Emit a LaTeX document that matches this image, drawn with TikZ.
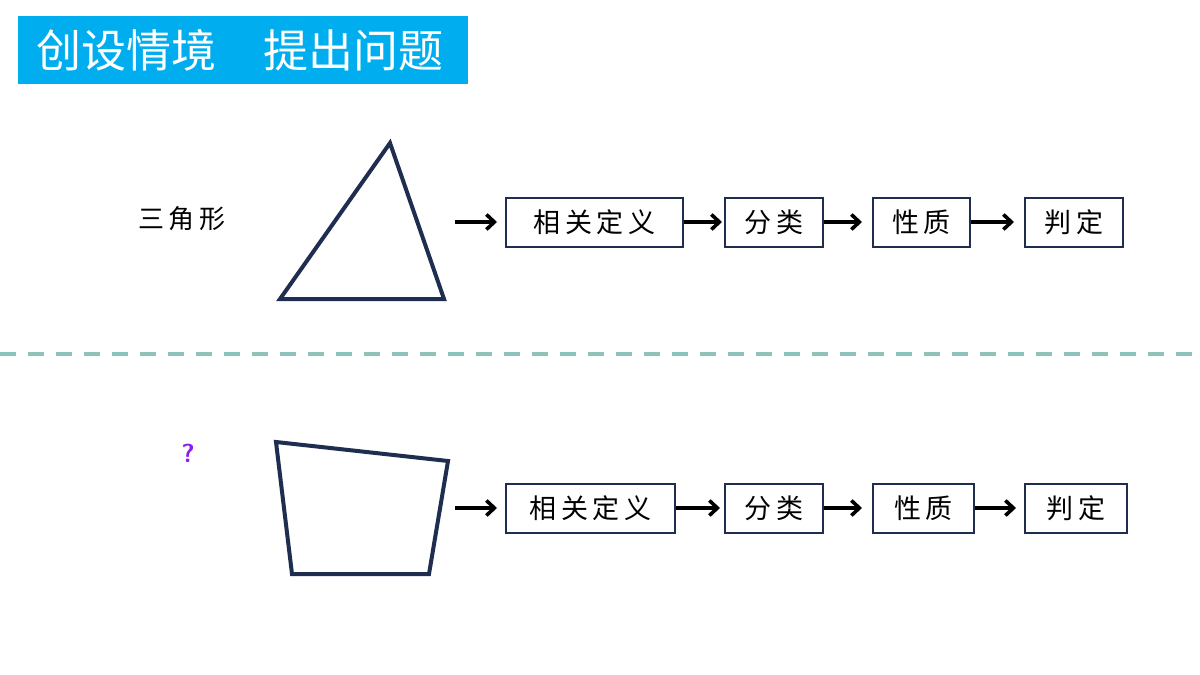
\documentclass[tikz,border=0pt]{standalone}
\usepackage{fontspec}
\newfontfamily\cjk{Noto Sans CJK SC}
\usetikzlibrary{arrows.meta}
\definecolor{hdrblue}{HTML}{00AEEF}
\definecolor{navy}{HTML}{1F2D50}
\definecolor{dashc}{HTML}{8CC4BC}
\definecolor{qcol}{HTML}{8A1CF0}
\tikzset{
  stepbox/.style={draw=navy,line width=2pt,minimum height=49pt,inner sep=0pt,font=\cjk\fontsize{27}{27}\selectfont,text=black,anchor=west},
  flow/.style={line width=3.6pt,-{Straight Barb[length=8pt,width=15pt,line width=3.6pt]}},
  figline/.style={draw=navy,line width=4pt,line join=miter}
}
\begin{document}
\begin{tikzpicture}[x=1pt,y=-1pt]
\useasboundingbox (0,0) rectangle (1200,675);
\fill[white] (0,0) rectangle (1200,675);
% header
\node[fill=hdrblue,minimum width=450pt,minimum height=68pt,anchor=north west,inner sep=0pt] (hdr) at (18,16) {};
\node[text=white,font=\cjk\fontsize{45}{45}\selectfont] (title) at (240,50) {创设情境\hspace{48pt}提出问题};
% dashed separator
\coordinate (dl) at (0,354);
\coordinate (dr) at (1200,354);
\draw[dashc,line width=4pt,dash pattern=on 16pt off 12pt] (dl) -- (dr);
% triangle
\draw[figline] (390,143) -- (444,299) -- (280,299) -- cycle;
\node[font=\cjk\fontsize{26}{26}\selectfont] (tri) at (182,219) {三\,角\,形};
% top row
\coordinate (s1) at (455,222);
\node[stepbox,minimum width=177pt] (a1) at (505,222) {相\,关\,定\,义};
\node[stepbox,minimum width=98pt] (a2) at (724,222) {分\,类};
\node[stepbox,minimum width=97pt] (a3) at (872,222) {性\,质};
\node[stepbox,minimum width=98pt] (a4) at (1024,222) {判\,定};
\draw[flow] (s1) -- ([xshift=-8pt]a1.west);
\draw[flow] (a1.east) -- ([xshift=-2pt]a2.west);
\draw[flow] (a2.east) -- ([xshift=-10pt]a3.west);
\draw[flow] (a3.east) -- ([xshift=-10pt]a4.west);
% quadrilateral
\draw[figline] (276,442) -- (448,461) -- (429,574) -- (292,574) -- cycle;
\node[text=qcol,font=\sffamily\bfseries\fontsize{26}{26}\selectfont] (q) at (188,453) {?};
% bottom row
\coordinate (s2) at (455,508);
\node[stepbox,minimum width=169pt] (b1) at (505,508) {相\,关\,定\,义};
\node[stepbox,minimum width=98pt] (b2) at (724,508) {分\,类};
\node[stepbox,minimum width=101pt] (b3) at (872,508) {性\,质};
\node[stepbox,minimum width=102pt] (b4) at (1024,508) {判\,定};
\draw[flow] (s2) -- ([xshift=-8pt]b1.west);
\draw[flow] (b1.east) -- ([xshift=-4pt]b2.west);
\draw[flow] (b2.east) -- ([xshift=-10pt]b3.west);
\draw[flow] (b3.east) -- ([xshift=-8pt]b4.west);
\end{tikzpicture}
\end{document}
